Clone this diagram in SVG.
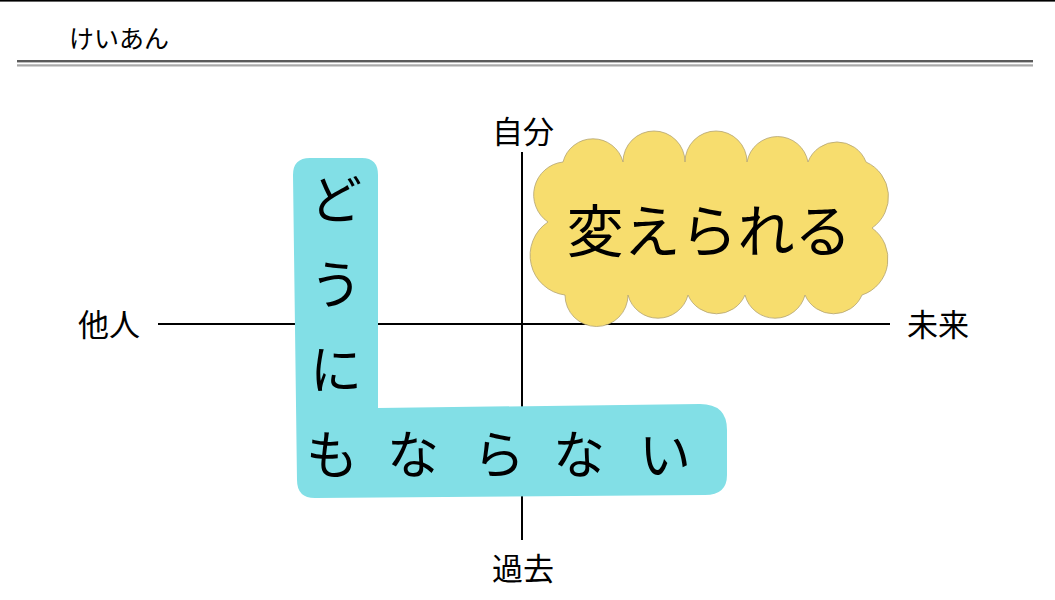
<svg xmlns="http://www.w3.org/2000/svg" width="1055" height="600" viewBox="0 0 1055 600">
<style>
text{font-family:"Noto Sans CJK JP","Noto Sans",sans-serif;fill:#000;}
.ax{font-size:31px;}
.big{font-size:52px;text-anchor:middle;}
.axis{stroke:#000;stroke-width:2;fill:none;}
</style>
<rect x="0" y="0" width="1055" height="600" fill="#fff"/>
<g id="header">
<rect x="0" y="0" width="1055" height="1.6" fill="#000"/>
<text x="69" y="48" style="font-size:25px">けいあん</text>
<rect x="17" y="60" width="1016" height="2.4" fill="#5a5a5a"/>
<rect x="17" y="64.3" width="1016" height="2.2" fill="#a8a8a8"/>
</g>
<g id="axes" class="connectors">
<line class="axis" x1="522" y1="152" x2="522" y2="540"/>
<line class="axis" x1="158" y1="324" x2="890" y2="324"/>
</g>
<g id="label-jibun"><text class="ax" x="523" y="143" text-anchor="middle">自分</text></g>
<g id="label-kako"><text class="ax" x="523" y="580" text-anchor="middle">過去</text></g>
<g id="label-tanin"><text class="ax" x="109" y="336" text-anchor="middle">他人</text></g>
<g id="label-mirai"><text class="ax" x="938" y="336" text-anchor="middle">未来</text></g>
<g id="node-kaerareru">
<path d="M563 162 A31 31 0 0 1 623 162 A31 31 0 0 1 685 162 A31 31 0 0 1 747 162 A31 31 0 0 1 808 162 A31 31 0 0 1 866 162 A38 38 0 0 1 872 228 A38 38 0 0 1 862 295 A31 31 0 0 1 805 295 A31 31 0 0 1 745 295 A31 31 0 0 1 688 295 A31 31 0 0 1 628 295 A31 31 0 0 1 565 295 A40 40 0 0 1 548 222 A33 33 0 0 1 563 162 Z" fill="#F7DD6E" stroke="#b3a374" stroke-width="0.8"/>
<text x="709" y="252" style="font-size:57px" text-anchor="middle">変えられる</text>
</g>
<g id="node-dounimonaranai">
<path d="M310 158 L362 158 Q378 158 378 175 L378 408 L700 404 Q727 404 727 430 L727 475 Q727 495 705 495 L315 498 Q297 498 297 480 L293 175 Q293 158 310 158 Z" fill="#82DFE6"/>
<text class="big" x="336" y="219">ど</text>
<text class="big" x="336" y="304">う</text>
<text class="big" x="336" y="389">に</text>
<text class="big" x="332" y="474">も</text>
<text class="big" x="413" y="474">な</text>
<text class="big" x="499" y="474">ら</text>
<text class="big" x="579" y="474">な</text>
<text class="big" x="665" y="474">い</text>
</g>
</svg>
